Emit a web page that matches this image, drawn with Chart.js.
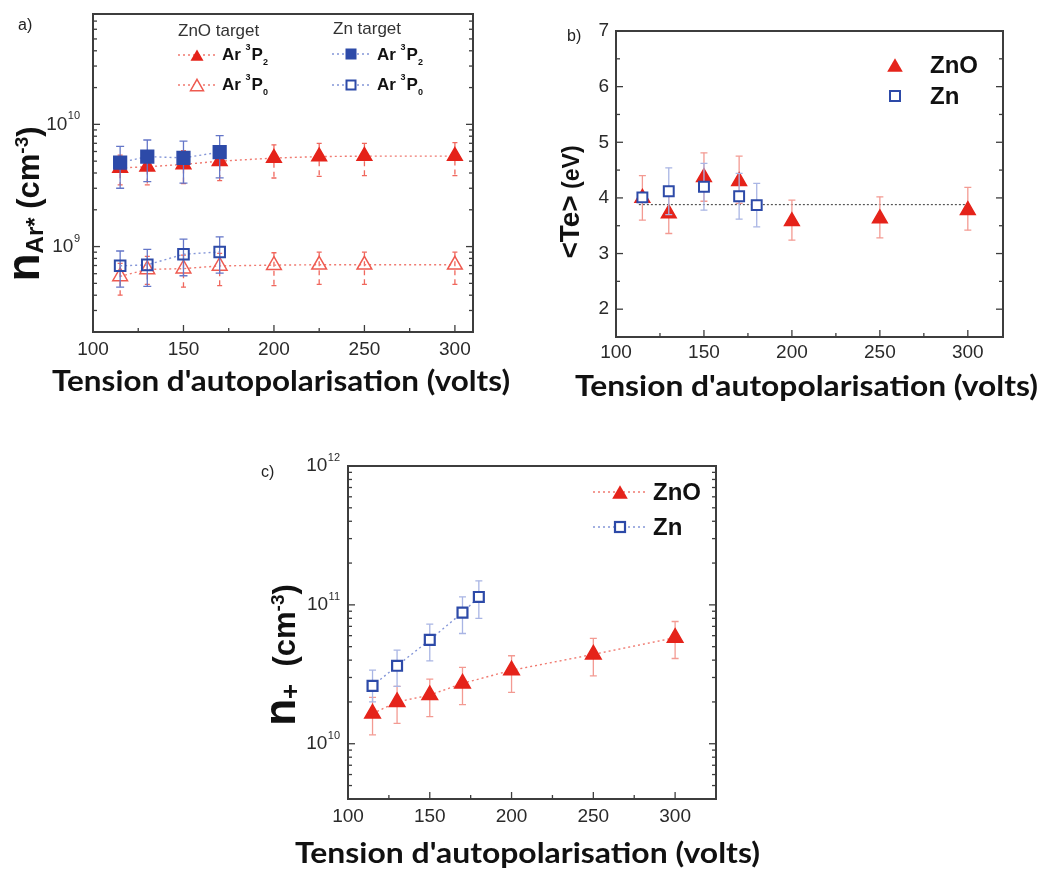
<!DOCTYPE html>
<html lang="fr">
<head>
    <meta charset="UTF-8">
    <title>Tension d'autopolarisation</title>
    <script src="https://cdn.jsdelivr.net/npm/chart.js"></script>
    <style>
        body { margin: 0; background: #fff; }
        #page { position: relative; width: 1041px; height: 869px; overflow: hidden; font-family: "Liberation Sans", Arial, sans-serif; }
        canvas { position: absolute; }
        .xt { position: absolute; font-family: Lato, "Open Sans", sans-serif; font-weight: 700; font-size: 28px; line-height: 1; white-space: nowrap; transform-origin: left top; color: #111; }
        .yt { position: absolute; font-family: "Liberation Sans", Arial, sans-serif; font-weight: 700; line-height: 1; white-space: nowrap; color: #111; transform: translate(-50%, -50%) rotate(-90deg); }
        .yt sub, .yt sup { line-height: 0; }
        .tag { position: absolute; font-size: 16px; line-height: 1; color: #222; }
    </style>
</head>
<body>
<div id="page">
    <canvas id="chartA" style="left:0;top:0" width="530" height="400"></canvas>
    <canvas id="chartB" style="left:540px;top:0" width="501" height="400"></canvas>
    <canvas id="chartC" style="left:260px;top:440px" width="560" height="429"></canvas>

    <!-- panel tags -->
    <div class="tag" style="left:18px;top:17px">a)</div>
    <div class="tag" style="left:567px;top:28px">b)</div>
    <div class="tag" style="left:261px;top:464px">c)</div>

    <!-- axis titles -->
    <div class="xt" id="xtA" style="left:52px;top:366px">Tension d'autopolarisation (volts)</div>
    <div class="xt" id="xtB" style="left:575px;top:371px">Tension d'autopolarisation (volts)</div>
    <div class="xt" id="xtC" style="left:295px;top:838px">Tension d'autopolarisation (volts)</div>

    <div class="yt" style="left:23px;top:204px"><span style="font-size:46px">n</span><sub style="font-size:24px">Ar*</sub><span style="font-size:31px">&nbsp;(cm<sup style="font-size:19px">-3</sup>)</span></div>
    <div class="yt" style="left:570px;top:202px"><span style="font-size:28px">&lt;Te&gt;</span><span style="font-size:23px">&nbsp;(eV)</span></div>
    <div class="yt" style="left:280px;top:655px"><span style="font-size:44px">n</span><sub style="font-size:26px">+</sub><span style="font-size:31px">&nbsp;&nbsp;(cm<sup style="font-size:19px">-3</sup>)</span></div>
</div>

<script>
    // ---- a) n_Ar* (cm-3) ----
    const voltsA_ZnO = [115, 130, 150, 170, 200, 225, 250, 300];
    const voltsA_Zn = [115, 130, 150, 170];
    const znoP2 = [4.4e9, 4.5e9, 4.7e9, 5.0e9, 5.3e9, 5.45e9, 5.5e9, 5.5e9];
    const znoP2Hi = [5.6e9, 6.0e9, 6.1e9, 6.4e9, 6.8e9, 7.0e9, 7.0e9, 7.1e9];
    const znoP2Lo = [3.2e9, 3.2e9, 3.27e9, 3.47e9, 3.64e9, 3.75e9, 3.8e9, 3.8e9];
    const znoP0 = [5.7e8, 6.5e8, 6.6e8, 6.95e8, 7.05e8, 7.1e8, 7.1e8, 7.1e8];
    const znoP0Hi = [7.3e8, 8.3e8, 8.5e8, 8.8e8, 8.9e8, 9.0e8, 9.0e8, 9.0e8];
    const znoP0Lo = [4.0e8, 4.9e8, 4.65e8, 4.8e8, 4.8e8, 4.9e8, 4.9e8, 4.9e8];
    const znP2 = [4.87e9, 5.45e9, 5.32e9, 5.92e9];
    const znP2Hi = [6.6e9, 7.45e9, 7.3e9, 8.1e9];
    const znP2Lo = [3.0e9, 3.4e9, 3.3e9, 3.65e9];
    const znP0 = [6.96e8, 7.08e8, 8.65e8, 9.04e8];
    const znP0Hi = [9.2e8, 9.5e8, 1.15e9, 1.2e9];
    const znP0Lo = [4.65e8, 4.73e8, 5.77e8, 6.07e8];
    const expTicksA = [9, 10];

    // ---- b) <Te> (eV) ----
    const voltsB_ZnO = [115, 130, 150, 170, 200, 250, 300];
    const voltsB_Zn = [115, 130, 150, 170, 180];
    const teZnO = [4.0, 3.72, 4.37, 4.3, 3.58, 3.63, 3.78];
    const teZnOHi = [4.4, 4.1, 4.81, 4.75, 3.96, 4.02, 4.19];
    const teZnOLo = [3.6, 3.36, 3.94, 3.9, 3.24, 3.28, 3.42];
    const teZn = [4.01, 4.12, 4.2, 4.03, 3.87];
    const teZnHi = [4.08, 4.54, 4.62, 4.44, 4.26];
    const teZnLo = [3.94, 3.7, 3.78, 3.62, 3.48];
    const teMean = 3.88;
    const teMeanSpan = [113, 300];
    const yTicksB = [2, 3, 4, 5, 6, 7];
    const yMinorB = [2.5, 3.5, 4.5, 5.5, 6.5];

    // ---- c) n+ (cm-3) ----
    const voltsC_ZnO = [115, 130, 150, 170, 200, 250, 300];
    const voltsC_Zn = [115, 130, 150, 170, 180];
    const nZnO = [1.65e10, 2.0e10, 2.24e10, 2.72e10, 3.38e10, 4.4e10, 5.8e10];
    const nZnOHi = [2.16e10, 2.59e10, 2.92e10, 3.55e10, 4.3e10, 5.73e10, 7.59e10];
    const nZnOLo = [1.16e10, 1.40e10, 1.57e10, 1.91e10, 2.34e10, 3.08e10, 4.11e10];
    const nZn = [2.61e10, 3.64e10, 5.6e10, 8.8e10, 1.14e11];
    const nZnHi = [3.39e10, 4.72e10, 7.26e10, 1.14e11, 1.49e11];
    const nZnLo = [2.0e10, 2.59e10, 3.95e10, 6.22e10, 8.0e10];
    const expTicksC = [10, 11, 12];

    const xTicks = [100, 150, 200, 250, 300];
    const xMinor = [125, 175, 225, 275];

    const RED = '#e5231a', RED_LINE = '#f07a70', RED_ERR = '#f39a92';
    const BLUE = '#2d4aa8', BLUE_LINE = '#8496d8', BLUE_ERR = '#a9b5e4';
    const TICK_FONT = '"Liberation Sans", Arial, sans-serif';

    function series(xs, ys, lo, hi, style) {
        return Object.assign({
            data: xs.map((x, i) => ({ x: x, y: ys[i] })),
            errLo: lo, errHi: hi,
            showLine: true, borderWidth: 1.4, borderDash: [2, 3],
            pointBorderWidth: 1.5, errCap: 3.5, errWidth: 1.3
        }, style);
    }

    function options(xMax, yType, yMin, yMax, pad) {
        return {
            responsive: false, animation: false, events: [],
            layout: { padding: pad },
            plugins: { legend: { display: false }, tooltip: { enabled: false } },
            scales: {
                x: { type: 'linear', display: false, min: 100, max: xMax },
                y: { type: yType, display: false, min: yMin, max: yMax }
            }
        };
    }

    // error bars, drawn just before each dataset's own markers
    const errorBars = {
        id: 'errorBars',
        beforeDatasetDraw(chart, args) {
            const ds = chart.data.datasets[args.index];
            if (!ds.errLo) return;
            const { ctx, scales: { x, y } } = chart;
            ctx.save();
            ctx.strokeStyle = ds.errColor;
            ctx.lineWidth = ds.errWidth;
            ds.data.forEach((p, i) => {
                const px = x.getPixelForValue(p.x);
                const top = y.getPixelForValue(ds.errHi[i]);
                const bot = y.getPixelForValue(ds.errLo[i]);
                ctx.setLineDash(ds.errDash || []);
                ctx.beginPath(); ctx.moveTo(px, top); ctx.lineTo(px, bot); ctx.stroke();
                ctx.setLineDash([]);
                ctx.beginPath();
                ctx.moveTo(px - ds.errCap, top); ctx.lineTo(px + ds.errCap, top);
                ctx.moveTo(px - ds.errCap, bot); ctx.lineTo(px + ds.errCap, bot);
                ctx.stroke();
            });
            ctx.restore();
        }
    };

    // box, inward ticks and tick labels
    function frame(cfg) {
        return {
            id: 'frame',
            afterDatasetsDraw(chart) {
                const { ctx, chartArea: a, scales: { x, y } } = chart;
                ctx.save();
                ctx.strokeStyle = '#3d3d3d';
                ctx.lineWidth = 2;
                ctx.strokeRect(a.left, a.top, a.right - a.left, a.bottom - a.top);
                ctx.lineWidth = 1.3;
                const seg = (x1, y1, x2, y2) => { ctx.beginPath(); ctx.moveTo(x1, y1); ctx.lineTo(x2, y2); ctx.stroke(); };

                xTicks.forEach(v => { const p = x.getPixelForValue(v); seg(p, a.bottom, p, a.bottom - 7); });
                xMinor.forEach(v => { const p = x.getPixelForValue(v); seg(p, a.bottom, p, a.bottom - 4); });

                let major = [], minor = [];
                if (cfg.exps) {
                    const lo = Math.floor(Math.log10(y.min)), hi = Math.ceil(Math.log10(y.max));
                    for (let e = lo; e <= hi; e++) {
                        for (let k = 1; k < 10; k++) {
                            const v = k * Math.pow(10, e);
                            if (v < y.min * 0.999 || v > y.max * 1.001) continue;
                            (k === 1 ? major : minor).push(v);
                        }
                    }
                } else {
                    major = cfg.yTicks; minor = cfg.yMinor;
                }
                major.forEach(v => {
                    const p = y.getPixelForValue(v);
                    seg(a.left, p, a.left + 7, p); seg(a.right, p, a.right - 7, p);
                });
                minor.forEach(v => {
                    const p = y.getPixelForValue(v);
                    seg(a.left, p, a.left + 4, p); seg(a.right, p, a.right - 4, p);
                });

                ctx.fillStyle = '#2a2a2a';
                ctx.textBaseline = 'middle';
                ctx.textAlign = 'center';
                ctx.font = '19px ' + TICK_FONT;
                xTicks.forEach(v => ctx.fillText(String(v), x.getPixelForValue(v), a.bottom + cfg.xGap));

                ctx.textAlign = 'right';
                if (cfg.exps) {
                    cfg.exps.forEach(e => {
                        const p = y.getPixelForValue(Math.pow(10, e));
                        const right = a.left - cfg.yGap;
                        ctx.font = '11px ' + TICK_FONT;
                        const sw = ctx.measureText(String(e)).width;
                        ctx.fillText(String(e), right, p - 8);
                        ctx.font = '19px ' + TICK_FONT;
                        ctx.fillText('10', right - sw - 0.5, p);
                    });
                } else {
                    cfg.yTicks.forEach(v => ctx.fillText(String(v), a.left - cfg.yGap, y.getPixelForValue(v)));
                }
                ctx.restore();
            }
        };
    }

    function tri(ctx, x, y, r, fill, stroke, lw) {
        const cy = y + r / 4;
        ctx.beginPath();
        ctx.moveTo(x, cy - r);
        ctx.lineTo(x + r * 0.866, cy + r / 2);
        ctx.lineTo(x - r * 0.866, cy + r / 2);
        ctx.closePath();
        if (fill) { ctx.fillStyle = fill; ctx.fill(); }
        if (stroke) { ctx.strokeStyle = stroke; ctx.lineWidth = lw; ctx.stroke(); }
    }

    function sq(ctx, x, y, s, fill, stroke, lw) {
        if (fill) { ctx.fillStyle = fill; ctx.fillRect(x - s / 2, y - s / 2, s, s); }
        if (stroke) { ctx.strokeStyle = stroke; ctx.lineWidth = lw; ctx.strokeRect(x - s / 2, y - s / 2, s, s); }
    }

    function dotted(ctx, x1, x2, y, color) {
        ctx.save();
        ctx.strokeStyle = color; ctx.lineWidth = 1.3; ctx.setLineDash([2, 3]);
        ctx.beginPath(); ctx.moveTo(x1, y); ctx.lineTo(x2, y); ctx.stroke();
        ctx.restore();
    }

    function rich(ctx, parts, x, y) {
        ctx.textAlign = 'left';
        ctx.textBaseline = 'middle';
        parts.forEach(p => {
            ctx.font = p[1];
            ctx.fillText(p[0], x, y + (p[2] || 0));
            x += ctx.measureText(p[0]).width + (p[3] || 0);
        });
    }

    const legendA = {
        id: 'legendA',
        afterDraw(chart) {
            const ctx = chart.ctx;
            ctx.save();
            ctx.fillStyle = '#333';
            ctx.font = '17px ' + TICK_FONT;
            ctx.textBaseline = 'middle';
            ctx.fillText('ZnO target', 178, 31);
            ctx.fillText('Zn target', 333, 29);
            dotted(ctx, 178, 215, 55, RED_LINE);
            tri(ctx, 197, 55, 7.5, RED, null);
            dotted(ctx, 178, 215, 85, RED_LINE);
            tri(ctx, 197, 85, 7.5, '#fff', '#ee5a50', 1.5);
            dotted(ctx, 332, 370, 54, BLUE_LINE);
            sq(ctx, 351, 54, 11, BLUE, null);
            dotted(ctx, 332, 370, 85, BLUE_LINE);
            sq(ctx, 351, 85, 9, '#fff', BLUE, 2);
            ctx.fillStyle = '#111';
            const b = 'bold 17px ' + TICK_FONT, s = 'bold 9px ' + TICK_FONT;
            rich(ctx, [['Ar ', b], ['3', s, -7, 1], ['P', b], ['2', s, 8]], 222, 55);
            rich(ctx, [['Ar ', b], ['3', s, -7, 1], ['P', b], ['0', s, 8]], 222, 85);
            rich(ctx, [['Ar ', b], ['3', s, -7, 1], ['P', b], ['2', s, 8]], 377, 55);
            rich(ctx, [['Ar ', b], ['3', s, -7, 1], ['P', b], ['0', s, 8]], 377, 85);
            ctx.restore();
        }
    };

    const legendB = {
        id: 'legendB',
        afterDraw(chart) {
            const ctx = chart.ctx;
            ctx.save();
            tri(ctx, 355, 65, 9, RED, null);
            sq(ctx, 355, 96, 10, '#fff', BLUE, 2);
            ctx.fillStyle = '#111';
            rich(ctx, [['ZnO', 'bold 24px ' + TICK_FONT]], 390, 66);
            rich(ctx, [['Zn', 'bold 24px ' + TICK_FONT]], 390, 97);
            ctx.restore();
        }
    };

    const legendC = {
        id: 'legendC',
        afterDraw(chart) {
            const ctx = chart.ctx;
            ctx.save();
            dotted(ctx, 333, 385, 52, RED_LINE);
            tri(ctx, 360, 52, 9, RED, null);
            dotted(ctx, 333, 385, 87, BLUE_LINE);
            sq(ctx, 360, 87, 10, '#fff', BLUE, 2.2);
            ctx.fillStyle = '#111';
            rich(ctx, [['ZnO', 'bold 24px ' + TICK_FONT]], 393, 53);
            rich(ctx, [['Zn', 'bold 24px ' + TICK_FONT]], 393, 88);
            ctx.restore();
        }
    };

    // a)
    new Chart(document.getElementById('chartA'), {
        type: 'scatter',
        data: {
            datasets: [
                series(voltsA_Zn, znP2, znP2Lo, znP2Hi, {
                    pointStyle: 'rect', pointRadius: 9, pointBackgroundColor: BLUE, pointBorderColor: BLUE,
                    borderColor: BLUE_LINE, errColor: '#6476c8', errCap: 4
                }),
                series(voltsA_Zn, znP0, znP0Lo, znP0Hi, {
                    pointStyle: 'rect', pointRadius: 7.5, pointBackgroundColor: 'rgba(0,0,0,0)', pointBorderColor: BLUE,
                    pointBorderWidth: 2, borderColor: BLUE_LINE, errColor: '#6476c8', errCap: 4
                }),
                series(voltsA_ZnO, znoP2, znoP2Lo, znoP2Hi, {
                    pointStyle: 'triangle', pointRadius: 8.5, pointBackgroundColor: RED, pointBorderColor: RED,
                    borderColor: RED_LINE, errColor: '#f0675d', errDash: [5, 4], errCap: 2.5
                }),
                series(voltsA_ZnO, znoP0, znoP0Lo, znoP0Hi, {
                    pointStyle: 'triangle', pointRadius: 8.5, pointBackgroundColor: 'rgba(0,0,0,0)', pointBorderColor: '#ee5a50',
                    borderColor: RED_LINE, errColor: '#f0675d', errDash: [5, 4], errCap: 2.5
                })
            ]
        },
        options: options(310, 'logarithmic', 2e8, 8e10, { left: 93, top: 14, right: 57, bottom: 68 }),
        plugins: [errorBars, frame({ exps: expTicksA, xGap: 18, yGap: 13 }), legendA]
    });

    // b)
    new Chart(document.getElementById('chartB'), {
        type: 'scatter',
        data: {
            datasets: [
                series(voltsB_Zn, teZn, teZnLo, teZnHi, {
                    showLine: false, pointStyle: 'rect', pointRadius: 7, pointBackgroundColor: '#fff',
                    pointBorderColor: BLUE, pointBorderWidth: 2, errColor: BLUE_ERR
                }),
                series(voltsB_ZnO, teZnO, teZnOLo, teZnOHi, {
                    showLine: false, pointStyle: 'triangle', pointRadius: 8.5, pointBackgroundColor: RED,
                    pointBorderColor: RED, errColor: RED_ERR
                }),
                {
                    data: teMeanSpan.map(x => ({ x: x, y: teMean })),
                    showLine: true, pointRadius: 0, borderColor: '#555', borderWidth: 1.2, borderDash: [2, 2]
                }
            ]
        },
        options: options(320, 'linear', 1.5, 7, { left: 76, top: 31, right: 38, bottom: 63 }),
        plugins: [errorBars, frame({ yTicks: yTicksB, yMinor: yMinorB, xGap: 16, yGap: 7 }), legendB]
    });

    // c)
    new Chart(document.getElementById('chartC'), {
        type: 'scatter',
        data: {
            datasets: [
                series(voltsC_Zn, nZn, nZnLo, nZnHi, {
                    pointStyle: 'rect', pointRadius: 7, pointBackgroundColor: '#fff', pointBorderColor: BLUE,
                    pointBorderWidth: 2.2, borderColor: BLUE_LINE, errColor: BLUE_ERR
                }),
                series(voltsC_ZnO, nZnO, nZnOLo, nZnOHi, {
                    pointStyle: 'triangle', pointRadius: 9, pointBackgroundColor: RED, pointBorderColor: RED,
                    borderColor: RED_LINE, errColor: RED_ERR
                })
            ]
        },
        options: options(325, 'logarithmic', 4e9, 1e12, { left: 88, top: 26, right: 104, bottom: 70 }),
        plugins: [errorBars, frame({ exps: expTicksC, xGap: 18, yGap: 8 }), legendC]
    });

    // squeeze the x titles to the width they have in the figure
    function fitTitles() {
        [['xtA', 458], ['xtB', 463], ['xtC', 465]].forEach(([id, w]) => {
            const el = document.getElementById(id);
            el.style.transform = 'none';
            el.style.transform = 'scaleX(' + (w / el.offsetWidth) + ')';
        });
    }
    fitTitles();
    if (document.fonts) document.fonts.ready.then(fitTitles);
</script>
</body>
</html>
